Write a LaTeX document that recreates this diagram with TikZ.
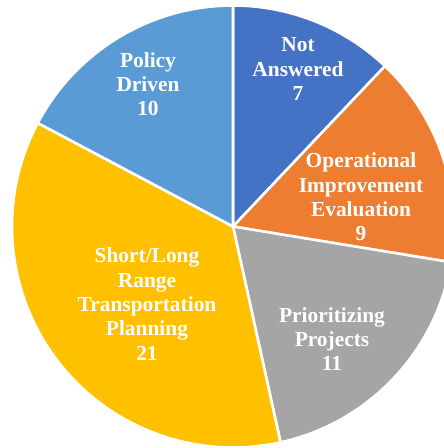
\documentclass[tikz,border=0pt]{standalone}
\usepackage{fontspec}
\setmainfont{Liberation Serif}
\definecolor{notans}{HTML}{4472C4}
\definecolor{operimp}{HTML}{ED7D31}
\definecolor{prioproj}{HTML}{A5A5A5}
\definecolor{rangeplan}{HTML}{FFC000}
\definecolor{policy}{HTML}{5B9BD5}
\begin{document}
\begin{tikzpicture}[x=1pt,y=1pt,
  slice/.style={draw=white, line width=2.6pt, line join=miter},
  lbl/.style={text=white, align=center, inner sep=0pt,
    font=\bfseries\fontsize{21.4}{24.3}\selectfont}]
  \clip (0,0) rectangle (444,-448);
  \coordinate (c) at (233,-226.5);
  % slices, clockwise from the top
  \draw[slice, fill=notans] (c) -- ++(46.552:221) arc[start angle=46.552, end angle=90, radius=221] -- cycle;
  \draw[slice, fill=operimp] (c) -- ++(-9.310:221) arc[start angle=-9.310, end angle=46.552, radius=221] -- cycle;
  \draw[slice, fill=prioproj] (c) -- ++(-77.586:221) arc[start angle=-77.586, end angle=-9.310, radius=221] -- cycle;
  \draw[slice, fill=rangeplan] (c) -- ++(-207.931:221) arc[start angle=-207.931, end angle=-77.586, radius=221] -- cycle;
  \draw[slice, fill=policy] (c) -- ++(90:221) arc[start angle=90, end angle=152.069, radius=221] -- cycle;
  % labels
  \node[lbl] (notanslbl) at (298,-69) {Not\\Answered\\7};
  \node[lbl] (operlbl) at (361,-197) {Operational\\Improvement\\Evaluation\\9};
  \node[lbl] (priolbl) at (332,-339) {Prioritizing\\Projects\\11};
  \node[lbl] (rangelbl) at (147,-304) {Short/Long\\Range\\Transportation\\Planning\\21};
  \node[lbl] (policylbl) at (148,-84) {Policy\\Driven\\10};
\end{tikzpicture}
\end{document}
